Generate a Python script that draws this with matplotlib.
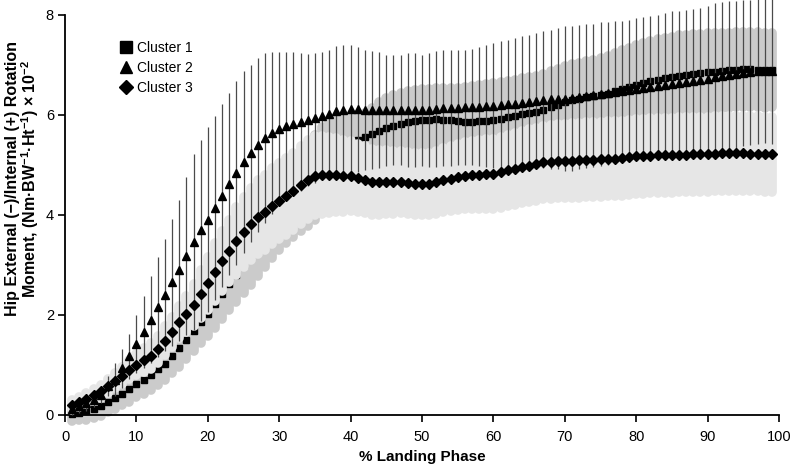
import numpy as np
import matplotlib
matplotlib.use("Agg")
import matplotlib.pyplot as plt
from matplotlib.lines import Line2D

plt.rcParams['font.family'] = ['Liberation Sans', 'DejaVu Sans']
plt.rcParams['mathtext.default'] = 'regular'

# % landing phase, one sample per percent
phase = np.arange(1, 100)

# cluster 1 (squares) mean and SD
c1_mean = [0.02, 0.04, 0.07, 0.11, 0.18, 0.25, 0.33, 0.42, 0.51, 0.62,
           0.70, 0.80, 0.91, 1.02, 1.18, 1.33, 1.50, 1.67, 1.85, 2.02,
           2.22, 2.42, 2.62, 2.80, 3.00, 3.20, 3.40, 3.60, 3.80, 4.00,
           4.15, 4.30, 4.45, 4.60, 4.75, 4.90, 5.05, 5.20, 5.30, 5.40,
           5.50, 5.55, 5.62, 5.68, 5.74, 5.78, 5.81, 5.85, 5.87, 5.89,
           5.90, 5.91, 5.90, 5.89, 5.87, 5.86, 5.86, 5.87, 5.88, 5.90,
           5.92, 5.95, 5.98, 6.01, 6.03, 6.05, 6.10, 6.15, 6.19, 6.26,
           6.30, 6.32, 6.35, 6.37, 6.39, 6.42, 6.48, 6.52, 6.56, 6.60,
           6.63, 6.67, 6.70, 6.73, 6.75, 6.78, 6.79, 6.81, 6.83, 6.85,
           6.86, 6.87, 6.89, 6.90, 6.91, 6.91, 6.90, 6.89, 6.89]
c1_sd = [0.15, 0.15, 0.17, 0.18, 0.20, 0.20, 0.22, 0.23, 0.25, 0.27,
         0.28, 0.30, 0.32, 0.33, 0.35, 0.37, 0.38, 0.40, 0.42, 0.45,
         0.48, 0.50, 0.52, 0.55, 0.57, 0.60, 0.62, 0.65, 0.67, 0.70,
         0.72, 0.75, 0.78, 0.82, 0.85, 0.85, 0.82, 0.75, 0.65, 0.55,
         0.50, 0.48, 0.52, 0.57, 0.60, 0.61, 0.62, 0.62, 0.62, 0.62,
         0.62, 0.62, 0.63, 0.65, 0.67, 0.69, 0.71, 0.73, 0.73, 0.73,
         0.73, 0.73, 0.72, 0.72, 0.72, 0.72, 0.72, 0.72, 0.72, 0.72,
         0.72, 0.72, 0.72, 0.73, 0.74, 0.75, 0.76, 0.77, 0.78, 0.79,
         0.80, 0.80, 0.81, 0.81, 0.81, 0.81, 0.81, 0.80, 0.79, 0.78,
         0.77, 0.76, 0.75, 0.75, 0.75, 0.75, 0.75, 0.75, 0.74]

# cluster 2 (triangles) mean and SD
c2_mean = [0.11, 0.17, 0.23, 0.30, 0.40, 0.57, 0.70, 0.93, 1.17, 1.41,
           1.66, 1.90, 2.15, 2.39, 2.65, 2.89, 3.17, 3.45, 3.69, 3.90,
           4.13, 4.38, 4.61, 4.83, 5.05, 5.23, 5.39, 5.53, 5.63, 5.71,
           5.77, 5.81, 5.85, 5.89, 5.94, 5.98, 6.01, 6.07, 6.10, 6.11,
           6.11, 6.10, 6.09, 6.09, 6.09, 6.09, 6.09, 6.09, 6.10, 6.09,
           6.09, 6.11, 6.13, 6.14, 6.14, 6.15, 6.15, 6.16, 6.17, 6.18,
           6.19, 6.21, 6.22, 6.24, 6.25, 6.28, 6.30, 6.31, 6.32, 6.32,
           6.33, 6.35, 6.37, 6.39, 6.41, 6.43, 6.45, 6.47, 6.49, 6.52,
           6.54, 6.56, 6.58, 6.60, 6.61, 6.63, 6.65, 6.67, 6.70, 6.72,
           6.75, 6.77, 6.79, 6.81, 6.83, 6.85, 6.87, 6.88, 6.88]
c2_sd = [0.12, 0.14, 0.15, 0.15, 0.17, 0.20, 0.33, 0.39, 0.45, 0.58,
         0.72, 0.87, 1.00, 1.12, 1.27, 1.41, 1.58, 1.76, 1.81, 1.85,
         1.84, 1.83, 1.82, 1.84, 1.82, 1.77, 1.74, 1.70, 1.62, 1.54,
         1.48, 1.44, 1.38, 1.32, 1.30, 1.27, 1.29, 1.30, 1.30, 1.29,
         1.25, 1.20, 1.18, 1.16, 1.11, 1.10, 1.10, 1.14, 1.14, 1.11,
         1.14, 1.16, 1.16, 1.16, 1.15, 1.15, 1.16, 1.19, 1.22, 1.25,
         1.28, 1.29, 1.31, 1.33, 1.34, 1.35, 1.37, 1.39, 1.41, 1.45,
         1.45, 1.44, 1.44, 1.43, 1.44, 1.43, 1.42, 1.41, 1.41, 1.41,
         1.41, 1.41, 1.42, 1.43, 1.46, 1.45, 1.45, 1.45, 1.43, 1.46,
         1.48, 1.48, 1.48, 1.47, 1.46, 1.45, 1.45, 1.45, 1.47]

# cluster 3 (diamonds) mean and SD
c3_mean = [0.20, 0.25, 0.32, 0.39, 0.47, 0.57, 0.68, 0.78, 0.90, 1.00,
           1.09, 1.18, 1.31, 1.48, 1.66, 1.85, 2.01, 2.20, 2.42, 2.63,
           2.85, 3.07, 3.27, 3.48, 3.65, 3.81, 3.95, 4.05, 4.17, 4.27,
           4.37, 4.47, 4.59, 4.70, 4.78, 4.80, 4.80, 4.80, 4.78, 4.77,
           4.73, 4.70, 4.66, 4.65, 4.65, 4.65, 4.65, 4.63, 4.62, 4.62,
           4.62, 4.65, 4.69, 4.72, 4.75, 4.78, 4.79, 4.80, 4.81, 4.82,
           4.85, 4.89, 4.92, 4.95, 4.98, 5.01, 5.05, 5.05, 5.07, 5.08,
           5.08, 5.09, 5.10, 5.10, 5.11, 5.12, 5.12, 5.13, 5.15, 5.17,
           5.17, 5.18, 5.19, 5.19, 5.19, 5.20, 5.20, 5.21, 5.21, 5.21,
           5.22, 5.23, 5.23, 5.23, 5.23, 5.22, 5.22, 5.21, 5.21]
c3_sd = [0.10, 0.10, 0.11, 0.12, 0.13, 0.14, 0.15, 0.17, 0.19, 0.21,
         0.24, 0.26, 0.27, 0.29, 0.30, 0.32, 0.36, 0.42, 0.48, 0.53,
         0.58, 0.60, 0.62, 0.68, 0.70, 0.72, 0.74, 0.75, 0.76, 0.76,
         0.77, 0.77, 0.78, 0.79, 0.79, 0.78, 0.76, 0.74, 0.72, 0.70,
         0.68, 0.67, 0.66, 0.65, 0.64, 0.63, 0.62, 0.62, 0.62, 0.62,
         0.62, 0.63, 0.64, 0.65, 0.66, 0.67, 0.68, 0.69, 0.70, 0.70,
         0.71, 0.71, 0.72, 0.72, 0.73, 0.73, 0.73, 0.74, 0.74, 0.74,
         0.75, 0.75, 0.75, 0.75, 0.75, 0.75, 0.75, 0.75, 0.75, 0.75,
         0.75, 0.75, 0.75, 0.75, 0.75, 0.75, 0.75, 0.75, 0.75, 0.75,
         0.75, 0.75, 0.75, 0.75, 0.75, 0.75, 0.75, 0.75, 0.75]

labels = ['Cluster 1', 'Cluster 2', 'Cluster 3']

m1, s1 = np.array(c1_mean), np.array(c1_sd)
m2, s2 = np.array(c2_mean), np.array(c2_sd)
m3, s3 = np.array(c3_mean), np.array(c3_sd)

fig = plt.figure(figsize=(7.9, 4.71), dpi=100)
ax = fig.add_axes([0.0823, 0.1189, 0.9038, 0.8493])

# shaded SD bands made of thick round-capped bars
ax.vlines(phase, m1 - s1, m1 + s1, colors='#cbcbcb', linewidth=7,
          capstyle='round', zorder=1, clip_on=False)
ax.plot(phase, m1, 's', color='black', ms=5, zorder=2, clip_on=False)
ax.vlines(phase, m3 - s3, m3 + s3, colors='#e6e6e6', linewidth=7,
          capstyle='round', zorder=3, clip_on=False)
ax.vlines(phase, m2 - s2, m2 + s2, colors='#4a4a4a', linewidth=0.9,
          zorder=4, clip_on=False)
ax.plot(phase, m3, 'D', color='black', ms=4.6, zorder=5, clip_on=False)
ax.plot(phase, m2, '^', color='black', ms=6, zorder=6, clip_on=False)

ax.set_xlim(0, 100)
ax.set_ylim(0, 8)
ax.set_xticks(range(0, 101, 10))
ax.set_yticks([0, 2, 4, 6, 8])
for s in ['top', 'right']:
    ax.spines[s].set_visible(False)
for s in ['left', 'bottom']:
    ax.spines[s].set_linewidth(1.3)
ax.tick_params(direction='out', length=5, width=1.2)
ax.tick_params(axis='x', pad=6)
ax.tick_params(axis='y', pad=3)
for t in ax.get_xticklabels() + ax.get_yticklabels():
    t.set_family(['Liberation Sans Narrow', 'Liberation Sans'])
    t.set_fontsize(10.5)

ax.set_xlabel('% Landing Phase', fontsize=11, fontweight='bold', labelpad=4)
ax.set_ylabel('Hip External (\u2212)/Internal (+) Rotation\n'
              'Moment, (Nm\u00b7BW$^{-1}$\u00b7Ht$^{-1}$) \u00d7 10$^{-2}$',
              fontsize=11.5, fontweight='bold', linespacing=0.95)
ax.yaxis.set_label_coords(-0.034, 0.59)

handles = [Line2D([], [], ls='none', marker='s', color='black', ms=8),
           Line2D([], [], ls='none', marker='^', color='black', ms=9),
           Line2D([], [], ls='none', marker='D', color='black', ms=7)]
ax.legend(handles, labels, loc='upper left', bbox_to_anchor=(0.07, 0.95),
          frameon=False, fontsize=10, handlelength=0.8, handletextpad=0.4,
          labelspacing=0.45, borderaxespad=0)

fig.savefig('out.png', dpi=100)
